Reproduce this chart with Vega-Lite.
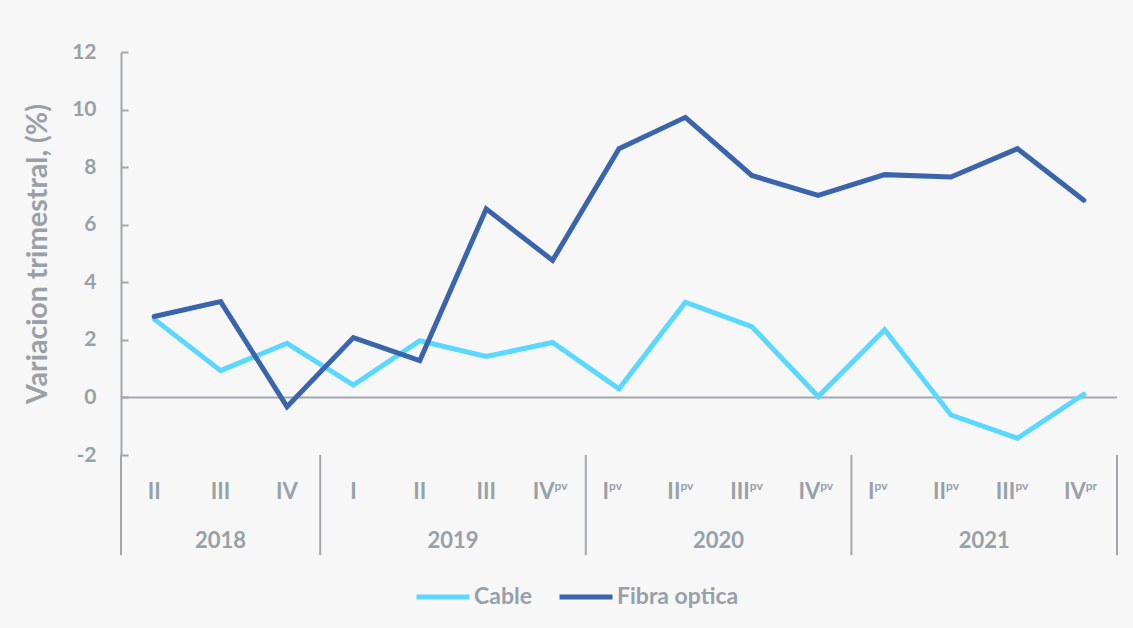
{
  "$schema": "https://vega.github.io/schema/vega-lite/v6.json",
  "width": 996,
  "height": 403,
  "autosize": {"type": "none"},
  "padding": {"left": 121, "top": 52, "right": 16, "bottom": 173},
  "background": "#f7f7f7",
  "config": {
    "view": {"stroke": null},
    "font": "Lato",
    "axis": {"labelFont": "Lato", "titleFont": "Lato", "labelColor": "#98a0a8", "titleColor": "#98a0a8", "domainColor": "#a0a7ae", "tickColor": "#a0a7ae", "gridColor": "#a0a7ae"},
    "legend": {"labelFont": "Lato"}
  },
  "datasets": {
    "series": [
      {"periodo": "2018 II", "serie": "Cable", "valor": 2.72},
      {"periodo": "2018 III", "serie": "Cable", "valor": 0.93},
      {"periodo": "2018 IV", "serie": "Cable", "valor": 1.88},
      {"periodo": "2019 I", "serie": "Cable", "valor": 0.43},
      {"periodo": "2019 II", "serie": "Cable", "valor": 1.97},
      {"periodo": "2019 III", "serie": "Cable", "valor": 1.42},
      {"periodo": "2019 IV pv", "serie": "Cable", "valor": 1.91},
      {"periodo": "2020 I pv", "serie": "Cable", "valor": 0.30},
      {"periodo": "2020 II pv", "serie": "Cable", "valor": 3.31},
      {"periodo": "2020 III pv", "serie": "Cable", "valor": 2.46},
      {"periodo": "2020 IV pv", "serie": "Cable", "valor": 0.03},
      {"periodo": "2021 I pv", "serie": "Cable", "valor": 2.35},
      {"periodo": "2021 II pv", "serie": "Cable", "valor": -0.61},
      {"periodo": "2021 III pv", "serie": "Cable", "valor": -1.42},
      {"periodo": "2021 IV pr", "serie": "Cable", "valor": 0.11},
      {"periodo": "2018 II", "serie": "Fibra optica", "valor": 2.81},
      {"periodo": "2018 III", "serie": "Fibra optica", "valor": 3.33},
      {"periodo": "2018 IV", "serie": "Fibra optica", "valor": -0.32},
      {"periodo": "2019 I", "serie": "Fibra optica", "valor": 2.08},
      {"periodo": "2019 II", "serie": "Fibra optica", "valor": 1.28},
      {"periodo": "2019 III", "serie": "Fibra optica", "valor": 6.55},
      {"periodo": "2019 IV pv", "serie": "Fibra optica", "valor": 4.76},
      {"periodo": "2020 I pv", "serie": "Fibra optica", "valor": 8.64},
      {"periodo": "2020 II pv", "serie": "Fibra optica", "valor": 9.73},
      {"periodo": "2020 III pv", "serie": "Fibra optica", "valor": 7.71},
      {"periodo": "2020 IV pv", "serie": "Fibra optica", "valor": 7.02},
      {"periodo": "2021 I pv", "serie": "Fibra optica", "valor": 7.74},
      {"periodo": "2021 II pv", "serie": "Fibra optica", "valor": 7.66},
      {"periodo": "2021 III pv", "serie": "Fibra optica", "valor": 8.64},
      {"periodo": "2021 IV pr", "serie": "Fibra optica", "valor": 6.85}
    ],
    "inicios": [
      {"periodo": "2018 II"},
      {"periodo": "2019 I"},
      {"periodo": "2020 I pv"},
      {"periodo": "2021 I pv"}
    ],
    "fin": [
      {"periodo": "2021 IV pr"}
    ],
    "cero": [
      {"nivel": 0}
    ]
  },
  "layer": [
    {
      "data": {"name": "cero"},
      "mark": {"type": "rule", "color": "#a0a7ae", "strokeWidth": 2},
      "encoding": {
        "y": {"field": "nivel", "type": "quantitative"}
      }
    },
    {
      "data": {"name": "series"},
      "mark": {"type": "line", "strokeWidth": 5, "strokeCap": "round"},
      "encoding": {
        "x": {
          "field": "periodo", "type": "nominal", "bandPosition": 0.5,
          "scale": {"type": "band", "paddingInner": 0, "paddingOuter": 0,
            "domain": ["2018 II","2018 III","2018 IV","2019 I","2019 II","2019 III","2019 IV pv","2020 I pv","2020 II pv","2020 III pv","2020 IV pv","2021 I pv","2021 II pv","2021 III pv","2021 IV pr"]},
          "axis": {
            "orient": "bottom", "title": null, "domain": false, "ticks": false, "grid": false,
            "labelAngle": 0, "labelOverlap": false,
            "labelExpr": "split(datum.value, ' ')[1]",
            "labelFontSize": 22, "labelFontWeight": "bold", "labelPadding": 26,
            "labelAlign": {"condition": {"test": "length(split(datum.value, ' ')) > 2", "value": "right"}, "value": "center"},
            "labelOffset": {"condition": [
              {"test": "indexof(datum.value, ' I pv') > 0", "value": -10},
              {"test": "indexof(datum.value, ' II pv') > 0", "value": -5},
              {"test": "indexof(datum.value, ' III pv') > 0", "value": -2},
              {"test": "indexof(datum.value, ' IV p') > 0", "value": 2}
            ], "value": 0}
          }
        },
        "y": {
          "field": "valor", "type": "quantitative",
          "scale": {"domain": [-2, 12], "nice": false, "zero": false},
          "axis": {
            "title": "Variacion trimestral, (%)", "titleFontSize": 28.5, "titleFontWeight": "bold", "titlePadding": 19,
            "values": [-2, 0, 2, 4, 6, 8, 10, 12],
            "labelExpr": "toString(datum.value)",
            "labelFontSize": 21, "labelFontWeight": "bold", "labelPadding": 32,
            "tickSize": -7, "tickWidth": 2, "domainWidth": 2, "grid": false
          }
        },
        "color": {
          "field": "serie", "type": "nominal",
          "scale": {"domain": ["Cable", "Fibra optica"], "range": ["#5ad8ff", "#3a65ad"]},
          "legend": {
            "orient": "none", "legendX": 293, "legendY": 516, "direction": "horizontal",
            "title": null, "padding": 0, "symbolType": "stroke", "symbolSize": 2809,
            "symbolStrokeWidth": 5, "labelFontSize": 23, "labelFontWeight": "bold",
            "labelColor": "#98a0a8", "labelOffset": 2, "columnPadding": 17
          }
        }
      }
    },
    {
      "data": {"name": "inicios"},
      "mark": {"type": "rule", "color": "#a0a7ae", "strokeWidth": 2},
      "encoding": {
        "x": {
          "field": "periodo", "type": "nominal", "bandPosition": 0,
          "axis": {
            "orient": "bottom", "title": null, "domain": false, "ticks": false, "grid": false,
            "labelAngle": 0, "labelOverlap": false,
            "values": ["2018 III", "2019 III", "2020 III pv", "2021 III pv"],
            "labelExpr": "split(datum.value, ' ')[0]",
            "labelFontSize": 22, "labelFontWeight": "bold", "labelPadding": 75,
            "labelOffset": {"condition": {"test": "indexof(datum.value, '2018') == 0", "value": 0}, "value": -33.2}
          }
        },
        "y": {"datum": -2, "type": "quantitative"},
        "y2": {"datum": -5.48}
      }
    },
    {
      "data": {"name": "fin"},
      "mark": {"type": "rule", "color": "#a0a7ae", "strokeWidth": 2},
      "encoding": {
        "x": {
          "field": "periodo", "type": "nominal", "bandPosition": 1,
          "axis": {
            "orient": "bottom", "title": null, "domain": false, "ticks": false, "grid": false,
            "labelAngle": 0, "labelOverlap": false,
            "values": ["2019 IV pv","2020 I pv","2020 II pv","2020 III pv","2020 IV pv","2021 I pv","2021 II pv","2021 III pv","2021 IV pr"],
            "labelExpr": "split(datum.value, ' ')[2]",
            "labelFontSize": 12, "labelFontWeight": "bold", "labelPadding": 25,
            "labelAlign": "left",
            "labelOffset": {"condition": [
              {"test": "indexof(datum.value, ' I pv') > 0", "value": -10},
              {"test": "indexof(datum.value, ' II pv') > 0", "value": -5},
              {"test": "indexof(datum.value, ' III pv') > 0", "value": -2}
            ], "value": 2}
          }
        },
        "y": {"datum": -2, "type": "quantitative"},
        "y2": {"datum": -5.48}
      }
    }
  ],
  "resolve": {"axis": {"x": "independent"}}
}
